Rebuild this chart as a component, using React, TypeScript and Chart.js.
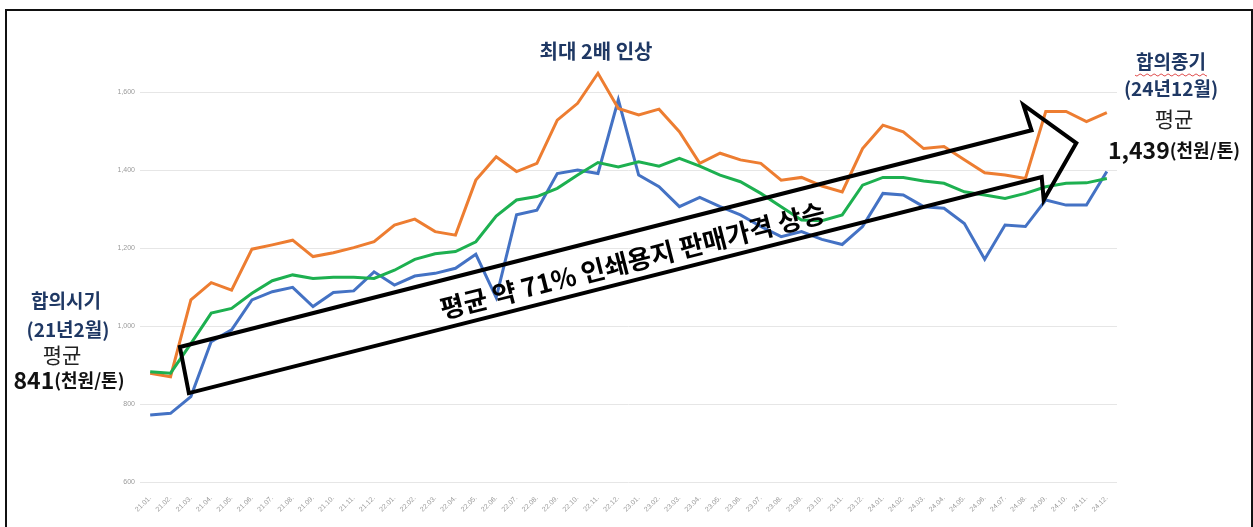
import React, { useEffect, useRef } from "react";
import { Chart, registerables } from "chart.js";
Chart.register(...registerables);

const labels = [
  "21.01.", "21.02.", "21.03.", "21.04.", "21.05.", "21.06.", "21.07.", "21.08.", "21.09.", "21.10.", "21.11.", "21.12.",
  "22.01.", "22.02.", "22.03.", "22.04.", "22.05.", "22.06.", "22.07.", "22.08.", "22.09.", "22.10.", "22.11.", "22.12.",
  "23.01.", "23.02.", "23.03.", "23.04.", "23.05.", "23.06.", "23.07.", "23.08.", "23.09.", "23.10.", "23.11.", "23.12.",
  "24.01.", "24.02.", "24.03.", "24.04.", "24.05.", "24.06.", "24.07.", "24.08.", "24.09.", "24.10.", "24.11.", "24.12.",
];

const orangeSeries = [
  879, 870, 1067, 1111, 1092, 1197, 1208, 1220, 1178, 1188, 1201, 1216,
  1259, 1274, 1242, 1233, 1374, 1434, 1396, 1417, 1528, 1571, 1648, 1558,
  1541, 1556, 1498, 1417, 1443, 1426, 1417, 1374, 1381, 1359, 1344, 1455,
  1515, 1498, 1455, 1460, 1426, 1393, 1387, 1378, 1550, 1550, 1524, 1547,
];

const greenSeries = [
  883, 879, 955, 1033, 1045, 1084, 1116, 1131, 1122, 1125, 1125, 1122,
  1143, 1171, 1185, 1191, 1216, 1282, 1323, 1332, 1353, 1387, 1419, 1408,
  1421, 1410, 1430, 1410, 1387, 1370, 1340, 1306, 1272, 1270, 1285, 1361,
  1381, 1381, 1372, 1366, 1344, 1336, 1327, 1340, 1357, 1366, 1367, 1378,
];

const blueSeries = [
  772, 776, 819, 960, 990, 1067, 1088, 1099, 1050, 1086, 1090, 1139,
  1105, 1128, 1135, 1148, 1184, 1073, 1285, 1297, 1391, 1400, 1391, 1580,
  1387, 1357, 1306, 1330, 1306, 1285, 1255, 1229, 1242, 1222, 1209, 1255,
  1340, 1336, 1306, 1302, 1263, 1171, 1259, 1255, 1323, 1310, 1310, 1396,
];

const yTicks = [600, 800, 1000, 1200, 1400, 1600];

// arrow outline in data space: [category index, value]
const arrowOutline = [
  [1.46, 946], [43.3, 1502], [42.9, 1567], [45.5, 1469], [43.9, 1323], [43.8, 1382], [1.9, 828],
];
const arrowText = "평균 약 71% 인쇄용지 판매가격 상승";
const arrowTextAnchor = [23.7, 1168];

const NAVY = "#1F3864";
const KFONT = "'Noto Sans CJK KR', 'Noto Sans', sans-serif";

function drawMixed(ctx: CanvasRenderingContext2D, parts: [string, string][], cx: number, cy: number, color: string) {
  let total = 0;
  const widths = parts.map(([t, f]) => {
    ctx.font = f;
    const w = ctx.measureText(t).width;
    total += w;
    return w;
  });
  let x = cx - total / 2;
  ctx.fillStyle = color;
  ctx.textBaseline = "middle";
  ctx.textAlign = "left";
  parts.forEach(([t, f], i) => {
    ctx.font = f;
    ctx.fillText(t, x, cy);
    x += widths[i];
  });
}

const annotPlugin = {
  id: "annot",
  afterDraw(chart: any) {
    const ctx: CanvasRenderingContext2D = chart.ctx;
    const xs = chart.scales.x;
    const ys = chart.scales.y;
    const P = (p: number[]) => [xs.getPixelForValue(p[0]), ys.getPixelForValue(p[1])];
    ctx.save();

    // big hollow arrow
    const pts = arrowOutline.map(P);
    ctx.beginPath();
    ctx.moveTo(pts[0][0], pts[0][1]);
    for (let i = 1; i < pts.length; i++) ctx.lineTo(pts[i][0], pts[i][1]);
    ctx.closePath();
    ctx.lineWidth = 4;
    ctx.strokeStyle = "#000";
    ctx.lineJoin = "miter";
    ctx.stroke();

    // arrow text
    const ang = Math.atan2(pts[1][1] - pts[0][1], pts[1][0] - pts[0][0]);
    const [tx, ty] = P(arrowTextAnchor);
    ctx.translate(tx, ty);
    ctx.rotate(ang);
    ctx.font = `bold 26px ${KFONT}`;
    ctx.fillStyle = "#000";
    ctx.textAlign = "center";
    ctx.textBaseline = "middle";
    ctx.fillText(arrowText, 0, 0);
    ctx.setTransform(1, 0, 0, 1, 0, 0);

    // top title
    ctx.font = `bold 20px ${KFONT}`;
    ctx.fillStyle = NAVY;
    ctx.textAlign = "center";
    ctx.textBaseline = "middle";
    ctx.fillText("최대 2배 인상", 596, 51);

    // left annotation
    ctx.font = `bold 19px ${KFONT}`;
    ctx.fillText("합의시기", 66, 301);
    ctx.fillText("(21년2월)", 68, 330);
    ctx.font = `21px ${KFONT}`;
    ctx.fillStyle = "#222";
    ctx.fillText("평균", 62, 355);
    drawMixed(ctx, [["841", `bold 23px ${KFONT}`], ["(천원/톤)", `bold 18px ${KFONT}`]], 69, 380, "#111");

    // right annotation
    ctx.textAlign = "center";
    ctx.font = `bold 19px ${KFONT}`;
    ctx.fillStyle = NAVY;
    ctx.fillText("합의종기", 1171, 62);
    ctx.fillText("(24년12월)", 1171, 89);
    // wavy underline
    ctx.beginPath();
    ctx.strokeStyle = "#E05050";
    ctx.lineWidth = 1;
    for (let x = 1135; x <= 1207; x += 1) {
      const yy = 75 + Math.sin((x - 1135) * 0.9) * 1;
      if (x === 1135) ctx.moveTo(x, yy); else ctx.lineTo(x, yy);
    }
    ctx.stroke();
    ctx.font = `21px ${KFONT}`;
    ctx.fillStyle = "#222";
    ctx.textAlign = "center";
    ctx.fillText("평균", 1174, 119);
    drawMixed(ctx, [["1,439", `bold 23px ${KFONT}`], ["(천원/톤)", `bold 18px ${KFONT}`]], 1174, 150, "#111");

    // frame
    ctx.strokeStyle = "#111";
    ctx.lineWidth = 2;
    ctx.strokeRect(6, 10, 1246, 1000);
    ctx.restore();
  },
};

export default function App() {
  const ref = useRef<HTMLCanvasElement>(null);
  useEffect(() => {
    if (!ref.current) return;
    const chart = new Chart(ref.current, {
      type: "line",
      data: {
        labels,
        datasets: [
          { label: "blue", data: blueSeries, borderColor: "#4472C4", borderWidth: 3, pointRadius: 0, tension: 0, order: 3 },
          { label: "orange", data: orangeSeries, borderColor: "#ED7D31", borderWidth: 3, pointRadius: 0, tension: 0, order: 2 },
          { label: "green", data: greenSeries, borderColor: "#1DB050", borderWidth: 3, pointRadius: 0, tension: 0, order: 1 },
        ],
      },
      options: {
        responsive: false,
        animation: false,
        devicePixelRatio: 1,
        layout: { padding: { left: 100, right: 136, top: 53, bottom: 5 } },
        plugins: { legend: { display: false }, tooltip: { enabled: false } },
        scales: {
          x: {
            offset: true,
            grid: { display: false },
            border: { display: false },
            ticks: {
              autoSkip: false,
              minRotation: 45,
              maxRotation: 45,
              color: "#9a9a9a",
              padding: 4,
              font: { size: 7, family: "'Liberation Sans', sans-serif" },
            },
            afterFit: (s: any) => { s.height = 40; },
          },
          y: {
            min: 600,
            max: 1700,
            afterBuildTicks: (s: any) => { s.ticks = yTicks.map((v) => ({ value: v })); },
            grid: { color: "#E6E6E6", lineWidth: 1, drawTicks: false },
            border: { display: false },
            ticks: {
              color: "#9a9a9a",
              padding: 5,
              font: { size: 7, family: "'Liberation Sans', sans-serif" },
              callback: (v: any) => Number(v).toLocaleString("en-US"),
            },
            afterFit: (s: any) => { s.width = 40; },
          },
        },
      },
      plugins: [annotPlugin],
    });
    return () => chart.destroy();
  }, []);
  return (
    <div style={{ position: "fixed", left: 0, top: 0, width: 1253, height: 527, background: "#fff" }}>
      <canvas ref={ref} width={1253} height={527} />
    </div>
  );
}
